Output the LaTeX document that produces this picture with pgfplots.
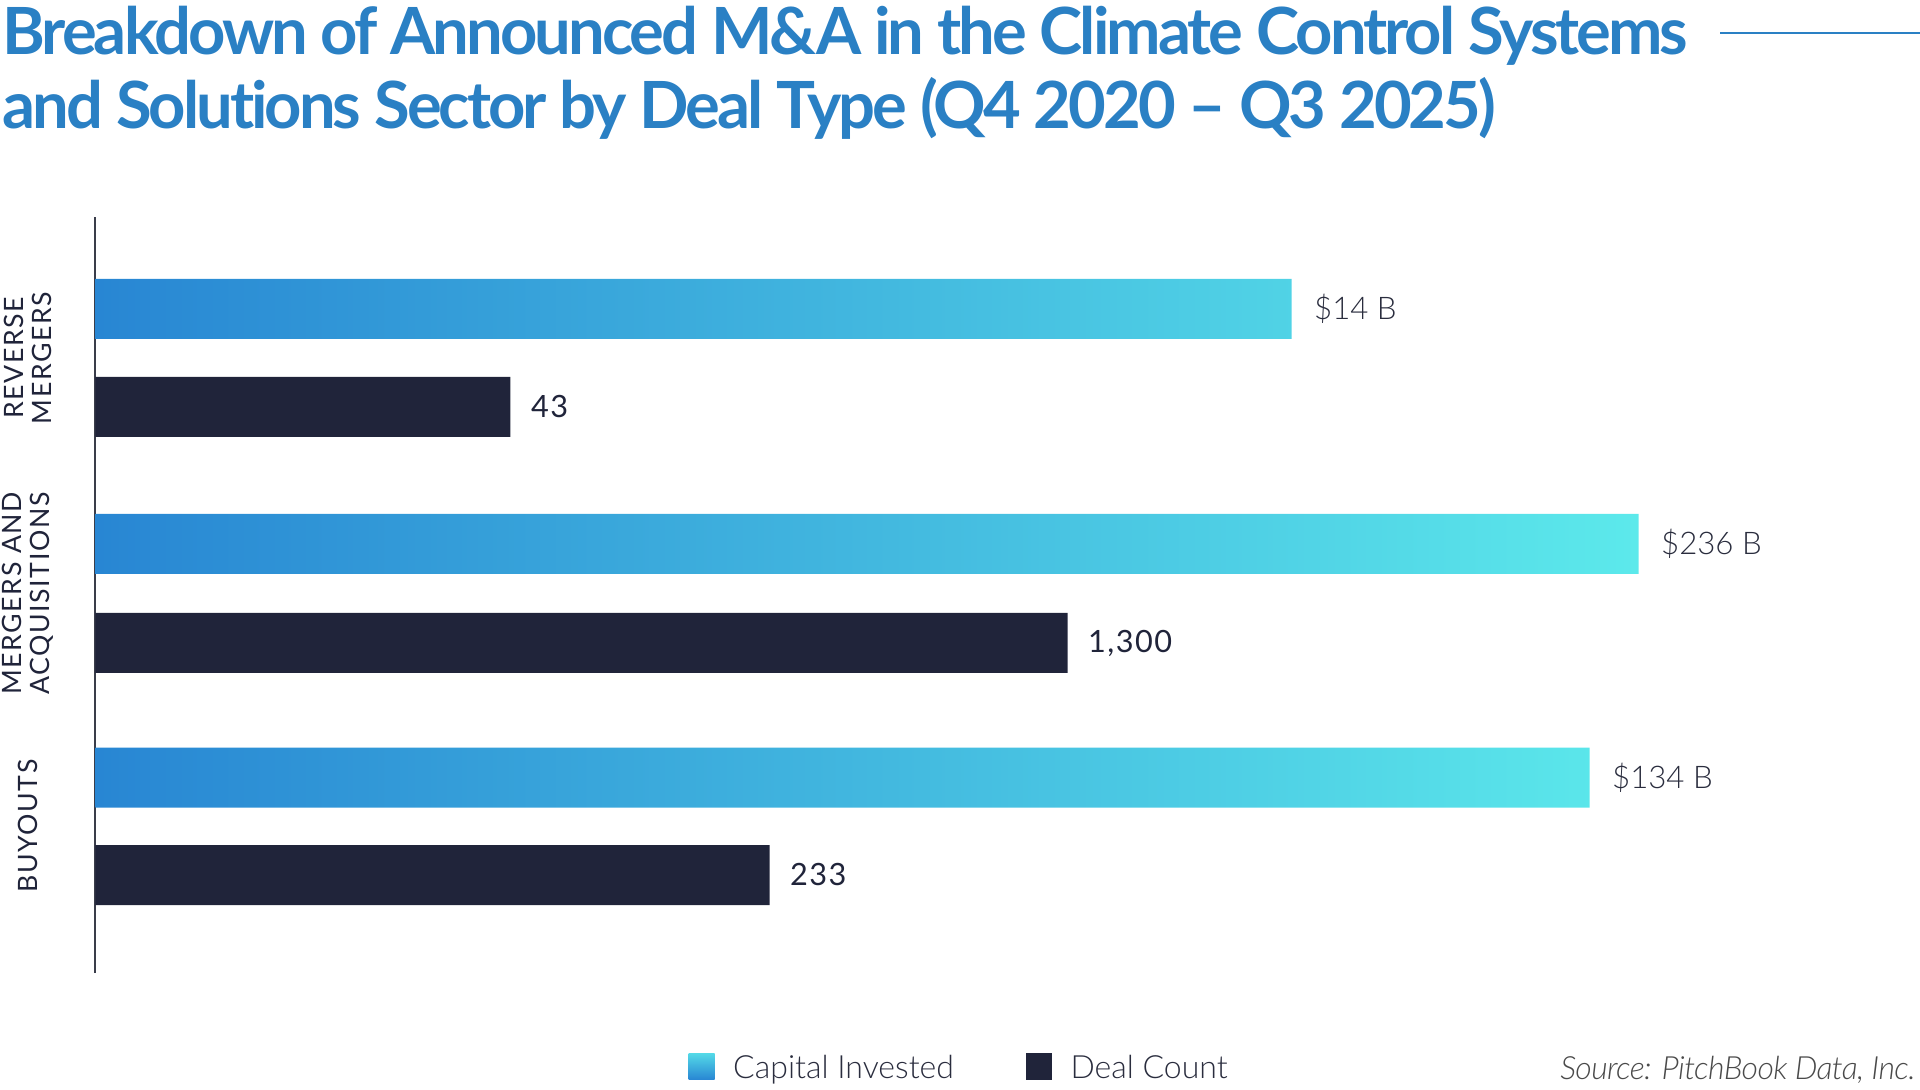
\documentclass[border=0pt]{standalone}
\usepackage{pgfplots}
\pgfplotsset{compat=1.18}
\usepackage{fontspec}
\setmainfont{Lato}
\newfontfamily\latobold{Lato Bold}[LetterSpace=-4.6, Ligatures=NoCommon]
\newfontfamily\latolight{Lato Light}
\newfontfamily\latolightit{Lato Light Italic}[LetterSpace=-2]
\newfontfamily\latospaced{Lato}[LetterSpace=6]
\newfontfamily\latonum{Lato}[LetterSpace=5]
\definecolor{titleblue}{HTML}{2A80C4}
\definecolor{barleft}{HTML}{2886D3}
\definecolor{barright}{HTML}{5CE9EB}
\definecolor{navy}{HTML}{20243A}
\definecolor{textdark}{HTML}{2A2D3E}
\definecolor{axisgray}{HTML}{3A3D4A}
\definecolor{srcgray}{HTML}{4A4A4A}

% bar lengths are in picture pixels (the chart is not drawn to scale)
\pgfplotstableread{
len   y     lab
1196  664   {\$14 B}
1543  429   {\$236 B}
1494  195.5 {\$134 B}
}\capital
\pgfplotstableread{
len   y     lab
415   566   {43}
972   330   {1,300}
674   98    {233}
}\deals

\begin{document}
\begin{tikzpicture}[x=0.375pt,y=0.375pt]
\path[use as bounding box] (0,0) rectangle (1920,1089);

\node[anchor=base west, inner sep=0pt, text=titleblue,
      font=\latobold\fontsize{24.4}{29}\selectfont] at (2,1034)
  {Breakdown of Announced M\&A in the Climate Control Systems};
\node[anchor=base west, inner sep=0pt, text=titleblue,
      font=\latobold\fontsize{24.4}{29}\selectfont] at (2,960)
  {and Solutions Sector by Deal Type (Q4 2020 – Q3 2025)};
\draw[titleblue, line width=0.8pt] (1720,1056) -- (1920,1056);

\node[anchor=base east, inner sep=0pt, text=srcgray,
      font=\latolightit\fontsize{12}{14}\selectfont] at (1916,10)
  {Source: PitchBook Data, Inc.};

\begin{axis}[
  at={(35.81pt,43.5pt)}, anchor=south west,
  scale only axis, width=637.5pt, height=283.5pt,
  xmin=0, xmax=1700, ymin=0, ymax=756,
  axis x line=none, axis y line*=left,
  axis line style={-, draw=axisgray, line width=0.75pt},
  major tick length=0pt,
  ytick={147,379.5,615},
  yticklabels={BUYOUTS, {MERGERS AND\\ACQUISITIONS}, {REVERSE\\MERGERS}},
  yticklabel style={xshift=-25.5pt, rotate=90, anchor=center, align=center,
    inner sep=0pt, text=navy,
    font=\latospaced\fontsize{10}{10.5}\selectfont},
  legend style={draw=none, fill=none, at={(0.509,-0.127)}, anchor=center,
    legend columns=2, text=textdark,
    font=\latolight\fontsize{12}{14}\selectfont,
    /tikz/every odd column/.append style={column sep=5pt},
    /tikz/every even column/.append style={column sep=25pt}},
  clip=false,
]
\addplot[xbar, bar width=22.5pt, bar shift=0pt, draw=none,
  left color=barleft, right color=barright,
  legend image code/.code={\shade[top color=barright!85!barleft, bottom color=barleft, draw=none] (0pt,-4pt) rectangle (9.75pt,6pt);}]
  table[x=len, y=y] {\capital};
\addlegendentry{Capital Invested}
\addplot[xbar, bar width=22.5pt, bar shift=0pt, draw=none, fill=navy,
  legend image code/.code={\fill[navy] (0pt,-4pt) rectangle (9.75pt,6pt);}]
  table[x=len, y=y] {\deals};
\addlegendentry{Deal Count}

\addplot[forget plot, xbar, bar width=22.5pt, bar shift=0pt, draw=none, fill=none,
  point meta=explicit symbolic, nodes near coords,
  every node near coord/.append style={anchor=west, inner sep=0pt, xshift=8.3pt,
    text=textdark, font=\latolight\fontsize{11.7}{14}\selectfont}]
  table[x=len, y=y, meta=lab] {\capital};
\addplot[forget plot, xbar, bar width=22.5pt, bar shift=0pt, draw=none, fill=none,
  point meta=explicit symbolic, nodes near coords,
  every node near coord/.append style={anchor=west, inner sep=0pt, xshift=7.5pt,
    text=navy, font=\latonum\fontsize{11.5}{14}\selectfont}]
  table[x=len, y=y, meta=lab] {\deals};
\end{axis}
\end{tikzpicture}
\end{document}
